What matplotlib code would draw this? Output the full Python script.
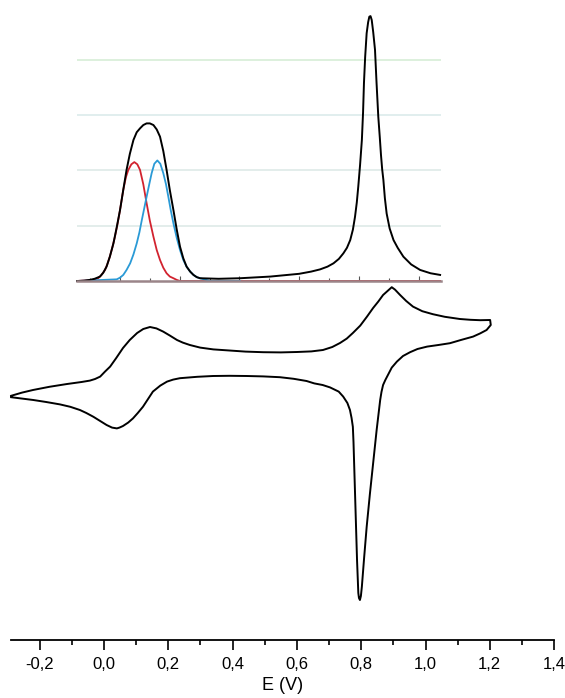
import numpy as np
import matplotlib.pyplot as plt
from matplotlib.ticker import MultipleLocator, FuncFormatter

plt.rcParams['font.family'] = ['Liberation Sans', 'DejaVu Sans']

# cyclic voltammogram (E in V, current in arbitrary units)
cv_E = [-0.289, -0.255, -0.221, -0.170, -0.115, -0.070, -0.044, -0.028, -0.012, 0.003,
        0.019, 0.038, 0.059, 0.080, 0.103, 0.122, 0.143, 0.163, 0.184, 0.205,
        0.227, 0.245, 0.267, 0.299, 0.340, 0.392, 0.440, 0.495, 0.550, 0.600,
        0.645, 0.681, 0.710, 0.734, 0.755, 0.774, 0.797, 0.818, 0.837, 0.853,
        0.868, 0.883, 0.895, 0.905, 0.921, 0.940, 0.961, 0.990, 1.023, 1.060,
        1.107, 1.140, 1.170, 1.201, 1.203, 1.190, 1.170, 1.148, 1.110, 1.076,
        1.040, 1.005, 0.975, 0.952, 0.930, 0.911, 0.895, 0.883, 0.875, 0.868,
        0.863, 0.859, 0.848, 0.838, 0.827, 0.817, 0.809, 0.802, 0.799, 0.796,
        0.793, 0.791, 0.787, 0.784, 0.781, 0.778, 0.776, 0.774, 0.770, 0.765,
        0.757, 0.744, 0.730, 0.703, 0.680, 0.654, 0.630, 0.590, 0.547, 0.495,
        0.444, 0.390, 0.339, 0.290, 0.236, 0.215, 0.196, 0.175, 0.152, 0.137,
        0.121, 0.105, 0.090, 0.075, 0.059, 0.048, 0.040, 0.025, 0.008, -0.012,
        -0.033, -0.055, -0.075, -0.105, -0.137, -0.180, -0.220, -0.255, -0.289]
cv_I = [0.21, 0.37, 0.50, 0.66, 0.80, 0.90, 0.97, 1.05, 1.17, 1.42,
        1.67, 2.10, 2.60, 3.00, 3.35, 3.55, 3.65, 3.58, 3.42, 3.22,
        3.00, 2.87, 2.75, 2.62, 2.53, 2.47, 2.42, 2.39, 2.38, 2.40,
        2.43, 2.50, 2.65, 2.85, 3.07, 3.35, 3.72, 4.17, 4.60, 4.92,
        5.25, 5.47, 5.64, 5.52, 5.25, 4.95, 4.67, 4.44, 4.29, 4.16,
        4.05, 4.01, 3.99, 4.00, 3.75, 3.50, 3.33, 3.17, 3.00, 2.84,
        2.75, 2.67, 2.55, 2.39, 2.20, 1.92, 1.62, 1.25, 1.00, 0.75,
        0.40, 0.00, -1.50, -3.00, -4.70, -6.34, -7.90, -9.34, -9.80, -10.0,
        -9.90, -9.65, -8.00, -6.34, -4.70, -3.00, -2.10, -1.34, -0.90, -0.50,
        -0.15, 0.17, 0.42, 0.63, 0.75, 0.83, 0.95, 1.06, 1.14, 1.18,
        1.20, 1.21, 1.20, 1.16, 1.09, 1.02, 0.92, 0.72, 0.42, 0.05,
        -0.34, -0.65, -0.92, -1.13, -1.30, -1.38, -1.42, -1.38, -1.25, -1.05,
        -0.84, -0.65, -0.50, -0.34, -0.22, -0.10, 0.00, 0.07, 0.14]

# inset: total signal and two fitted components
tot_E = [-0.144, -0.120, -0.101, -0.085, -0.067, -0.056, -0.045, -0.034, -0.022, -0.011,
         0.000, 0.011, 0.022, 0.033, 0.045, 0.056, 0.067, 0.078, 0.089, 0.100,
         0.112, 0.123, 0.134, 0.145, 0.156, 0.167, 0.179, 0.190, 0.201, 0.212,
         0.223, 0.235, 0.246, 0.257, 0.268, 0.330, 0.402, 0.503, 0.600, 0.640,
         0.670, 0.695, 0.715, 0.733, 0.748, 0.760, 0.771, 0.780, 0.787, 0.793,
         0.798, 0.804, 0.810, 0.814, 0.817, 0.821, 0.826, 0.831, 0.835, 0.839,
         0.843, 0.848, 0.854, 0.859, 0.865, 0.870, 0.874, 0.878, 0.882, 0.887,
         0.893, 0.903, 0.916, 0.930, 0.949, 0.975, 1.005, 1.040, 1.072]
tot_v = [0.00, 0.005, 0.02, 0.04, 0.08, 0.15, 0.26, 0.44, 0.68, 0.97,
         1.28, 1.65, 2.01, 2.30, 2.55, 2.69, 2.76, 2.82, 2.85, 2.85,
         2.82, 2.74, 2.61, 2.35, 2.01, 1.64, 1.28, 0.93, 0.62, 0.41,
         0.26, 0.17, 0.11, 0.07, 0.05, 0.04, 0.05, 0.08, 0.13, 0.17,
         0.21, 0.26, 0.32, 0.40, 0.50, 0.60, 0.74, 0.93, 1.16, 1.42,
         1.71, 2.10, 2.55, 3.05, 3.58, 4.05, 4.48, 4.68, 4.78, 4.79,
         4.72, 4.50, 4.18, 3.60, 2.97, 2.60, 2.28, 2.02, 1.83, 1.50,
         1.22, 0.95, 0.74, 0.60, 0.44, 0.30, 0.20, 0.14, 0.11]

red_E = [-0.144, -0.090, -0.073, -0.062, -0.050, -0.042, -0.034, -0.025, -0.017, -0.008,
         0.000, 0.011, 0.020, 0.028, 0.038, 0.048, 0.058, 0.067, 0.078, 0.089,
         0.100, 0.112, 0.123, 0.134, 0.145, 0.156, 0.167, 0.179, 0.190, 0.201,
         1.075]
red_v = [0.00, 0.02, 0.05, 0.11, 0.20, 0.31, 0.44, 0.62, 0.80, 1.04,
         1.28, 1.65, 1.88, 2.01, 2.11, 2.15, 2.11, 2.01, 1.75, 1.41,
         1.09, 0.80, 0.56, 0.38, 0.24, 0.14, 0.08, 0.05, 0.02, 0.00,
         0.00]

blue_E = [-0.144, -0.011, 0.000, 0.011, 0.022, 0.034, 0.045, 0.056, 0.065, 0.073,
          0.081, 0.089, 0.098, 0.106, 0.115, 0.125, 0.135, 0.145, 0.154, 0.162,
          0.170, 0.179, 0.190, 0.201, 0.212, 0.223, 0.235, 0.246, 0.257, 0.268,
          0.302, 0.402]
blue_v = [0.00, 0.03, 0.06, 0.11, 0.20, 0.32, 0.48, 0.68, 0.88, 1.10,
          1.31, 1.52, 1.75, 1.95, 2.12, 2.18, 2.12, 1.95, 1.75, 1.52,
          1.28, 1.04, 0.78, 0.56, 0.38, 0.26, 0.17, 0.11, 0.07, 0.05,
          0.00, 0.00]

fig = plt.figure(figsize=(5.65, 6.98), dpi=100)

# main CV panel, only the E axis is shown
ax = fig.add_axes([10.8 / 565, 58 / 698, 543.3 / 565, 640 / 698])
ax.patch.set_alpha(0)
ax.plot(cv_E, cv_I, color='black', lw=1.4, solid_joinstyle='round', clip_on=False)
ax.set_xlim(-0.29, 1.4)
ax.set_ylim(-12, 20)
for s in ['left', 'right', 'top']:
    ax.spines[s].set_visible(False)
ax.spines['bottom'].set_linewidth(1.3)
ax.set_yticks([])
ax.xaxis.set_major_locator(MultipleLocator(0.2))
ax.xaxis.set_minor_locator(MultipleLocator(0.1))
ax.xaxis.set_major_formatter(FuncFormatter(lambda v, p: f'{v:.1f}'.replace('.', ',')))
ax.tick_params(axis='x', which='major', direction='out', length=7, width=1.2,
               labelsize=12, pad=5)
ax.tick_params(axis='x', which='minor', direction='out', length=3.5, width=1.2)
ax.set_xlabel('E (V)', fontsize=13, labelpad=4)

# inset with the deconvoluted peaks
ins = fig.add_axes([77 / 565, (698 - 281) / 698, 364 / 565, 276.5 / 698])
ins.patch.set_alpha(0)
ins.set_xlim(-0.144, 1.075)
ins.set_ylim(0, 5)
for yv, gc in zip([1, 2, 3, 4], ['#dbe8e6', '#dbe8e6', '#d8e9ea', '#d3ecd3']):
    ins.axhline(yv, color=gc, lw=1.1, zorder=0)
ins.plot(red_E, red_v, color='#d2232f', lw=1.3)
ins.plot(blue_E, blue_v, color='#2a9ad6', lw=1.3)
ins.plot(tot_E, tot_v, color='black', lw=1.4, solid_joinstyle='round', clip_on=False)
for s in ['left', 'right', 'top']:
    ins.spines[s].set_visible(False)
ins.spines['bottom'].set_color('#9b8589')
ins.spines['bottom'].set_linewidth(1.8)
ins.set_yticks([])
ins.xaxis.set_major_locator(MultipleLocator(0.2))
ins.xaxis.set_minor_locator(MultipleLocator(0.1))
ins.tick_params(axis='x', which='major', direction='in', length=3.5, width=0.8,
                color='#555555', labelbottom=False)
ins.tick_params(axis='x', which='minor', direction='in', length=2, width=0.8,
                color='#555555')

fig.savefig('out.png', dpi=100)
